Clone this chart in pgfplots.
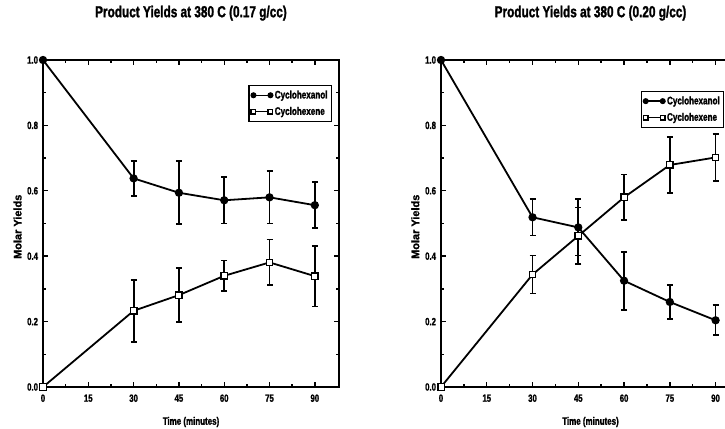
\documentclass[border=0pt]{standalone}
\usepackage{pgfplots}
\usepackage{pgfplotstable}
\pgfplotsset{compat=1.18}
\usepackage{fontspec}
\setmainfont{Liberation Sans}[FakeStretch=0.74, BoldFeatures={FakeBold=1.5}]
\newfontfamily\wide{Liberation Sans}[BoldFeatures={FakeBold=1.5}]

\pgfplotstableread{
x y e
0 1.000 0
30 0.638 0.054
45 0.594 0.096
60 0.571 0.071
75 0.580 0.080
90 0.556 0.070
}\lA
\pgfplotstableread{
x y e
0 0.000 0
30 0.233 0.095
45 0.281 0.083
60 0.340 0.047
75 0.381 0.070
90 0.339 0.093
}\lB
\pgfplotstableread{
x y e
0 1.000 0
30 0.519 0.056
45 0.488 0.086
60 0.325 0.089
75 0.260 0.051
90 0.204 0.046
}\rA
\pgfplotstableread{
x y e
0 0.000 0
30 0.344 0.058
45 0.462 0.087
60 0.580 0.070
75 0.679 0.086
90 0.702 0.072
}\rB

\pgfplotsset{
  panel/.style={
    scale only axis, height=327bp,
    xmin=0, xmax=98, ymin=0, ymax=1,
    xtick={0,15,30,45,60,75,90},
    minor xtick={7.5,22.5,37.5,52.5,67.5,82.5},
    ytick={0,0.2,0.4,0.6,0.8,1},
    minor ytick={0.1,0.3,0.5,0.7,0.9},
    tick align=inside, tick pos=both,
    major tick length=5bp, minor tick length=3bp,
    every tick/.style={line width=1.4bp, black},
    axis line style={line width=2bp},
    /pgf/number format/assume math mode=true,
    tick label style={font=\fontsize{10.5}{11}\selectfont\bfseries},
    yticklabel style={xshift=-1.5bp, /pgf/number format/.cd, fixed, fixed zerofill, precision=1},
    xticklabel style={yshift=-4bp, /pgf/number format/.cd, fixed, precision=0},
    title style={at={(axis description cs:0.5,1.125)}, anchor=center, font=\fontsize{16}{17}\selectfont\bfseries},
    xlabel style={at={(axis description cs:0.5,-0.107)}, anchor=center, font=\fontsize{10.8}{11}\selectfont\bfseries},
    ylabel style={at={(axis description cs:-0.086,0.49)}, anchor=center, font=\wide\fontsize{11}{12}\selectfont\bfseries},
    xlabel={Time (minutes)}, ylabel={Molar Yields},
    legend cell align=left,
    legend image code/.code={\draw[##1, mark size=2.3bp, line width=1.4bp] plot coordinates {(0bp,0bp) (17bp,0bp)};},
    legend style={draw=black, line width=1.4bp, font=\fontsize{11}{12}\selectfont\bfseries, inner xsep=2bp, inner ysep=3bp, row sep=3bp},
  },
  sA/.style={black, line width=1.8bp, mark=*, mark size=3.2bp,
    error bars/.cd, y dir=both, y explicit,
    error bar style={line width=1.8bp},
    error mark options={rotate=90, mark size=3bp, line width=1.8bp}},
  sB/.style={black, line width=1.8bp, mark=square*, mark size=3.2bp, mark options={fill=white, line width=1.4bp},
    error bars/.cd, y dir=both, y explicit,
    error bar style={line width=1.8bp},
    error mark options={rotate=90, mark size=3bp, line width=1.8bp}},
}

\begin{document}
\begin{tikzpicture}
\path[use as bounding box] (0,0) rectangle (725bp,429bp);
\clip (0,0) rectangle (725bp,429bp);
\begin{axis}[panel, at={(43bp,42bp)}, anchor=south west, width=296bp,
  title={Product Yields at 380 C (0.17 g/cc)},
  legend style={at={(0.977,0.924)}, anchor=north east}]
\addplot[sA] table[x=x, y=y, y error=e] {\lA};
\addplot[sB] table[x=x, y=y, y error=e] {\lB};
\legend{Cyclohexanol, Cyclohexene}
\end{axis}
\begin{axis}[panel, at={(441bp,42bp)}, anchor=south west, width=299bp,
  title={Product Yields at 380 C (0.20 g/cc)},
  legend style={at={(0.948,0.906)}, anchor=north east}]
\addplot[sA] table[x=x, y=y, y error=e] {\rA};
\addplot[sB] table[x=x, y=y, y error=e] {\rB};
\legend{Cyclohexanol, Cyclohexene}
\end{axis}
\end{tikzpicture}
\end{document}
